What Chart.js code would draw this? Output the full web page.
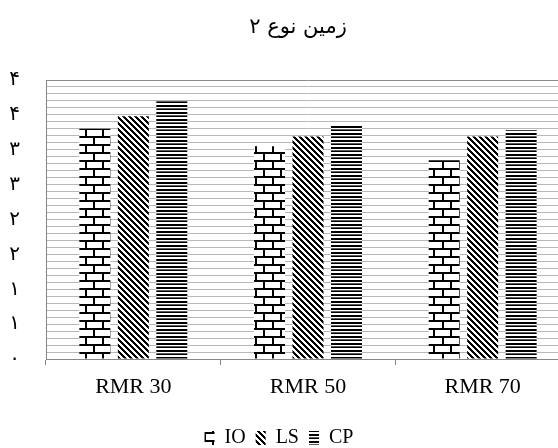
<!DOCTYPE html>
<html>
<head>
<meta charset="utf-8">
<script src="https://cdn.jsdelivr.net/npm/chart.js@4"></script>
<style>
  html, body { margin: 0; padding: 0; background: #fff; overflow: hidden; }
  #wrap { width: 558px; height: 448px; overflow: hidden; position: relative; }
  canvas { display: block; }
</style>
</head>
<body>
<div id="wrap"><canvas id="chart" width="600" height="448"></canvas></div>
<script>
/* ---- data ---- */
const TITLE       = 'زمین نوع ۲';
const categories  = ['RMR 30', 'RMR 50', 'RMR 70'];
const seriesNames = ['IO', 'LS', 'CP'];
const ioValues    = [3.30, 3.05, 2.85];
const lsValues    = [3.48, 3.19, 3.19];
const cpValues    = [3.70, 3.35, 3.28];
// labels shown every 0.5 (rounded, Persian digits), from 0 up to 4
const yTickLabels = ['۰', '۱', '۱', '۲', '۲', '۳', '۳', '۴', '۴'];

const SERIF = "'Liberation Serif', 'Times New Roman', serif";
const AXIS_GRAY = '#868686';
const GRID_GRAY = '#b8b8b8';

/* ---- fill patterns ---- */
function makeTile(w, h, draw) {
  const c = document.createElement('canvas');
  c.width = w; c.height = h;
  const g = c.getContext('2d');
  g.fillStyle = '#fff';
  g.fillRect(0, 0, w, h);
  draw(g, w, h);
  return g.createPattern(c, 'repeat');
}

// brick: white bricks, black mortar
const brickPattern = makeTile(17, 16, (g) => {
  g.fillStyle = '#000';
  g.fillRect(0, 0, 17, 2);
  g.fillRect(0, 8, 17, 2);
  g.fillRect(0, 2, 2, 6);
  g.fillRect(8, 10, 2, 6);
});

// wide downward diagonal
const diagPattern = makeTile(6, 6, (g) => {
  const img = g.getImageData(0, 0, 6, 6);
  for (let y = 0; y < 6; y++) {
    for (let x = 0; x < 6; x++) {
      const d = ((x - y) % 6 + 6) % 6;
      const v = d < 3 ? 0 : 255;
      const i = (y * 6 + x) * 4;
      img.data[i] = img.data[i + 1] = img.data[i + 2] = v;
      img.data[i + 3] = 255;
    }
  }
  g.putImageData(img, 0, 0);
});

// dark horizontal stripes
const hstripePattern = makeTile(1, 7, (g) => {
  const rows = [0, 0, 255, 90, 0, 255, 255];
  rows.forEach((v, y) => {
    g.fillStyle = `rgb(${v},${v},${v})`;
    g.fillRect(0, y, 1, 1);
  });
});

/* ---- small layout nudges (title / legend placement) ---- */
const nudge = {
  id: 'nudge',
  afterLayout(chart) {
    const lg = chart.legend;
    if (lg) {
      lg.left -= 6; lg.right -= 6;
      lg.top += 15; lg.bottom += 15;
    }
    const tb = chart.titleBlock;
    if (tb) { tb.left += 13; tb.right += 13; }
  }
};

function barSet(label, data, fill) {
  return {
    label,
    data,
    backgroundColor: fill,
    borderWidth: 0,
    barPercentage: 0.805,
    categoryPercentage: 0.661
  };
}

new Chart(document.getElementById('chart'), {
  type: 'bar',
  data: {
    labels: categories,
    datasets: [
      barSet(seriesNames[0], ioValues, brickPattern),
      barSet(seriesNames[1], lsValues, diagPattern),
      barSet(seriesNames[2], cpValues, hstripePattern)
    ]
  },
  plugins: [nudge],
  options: {
    responsive: false,
    animation: false,
    layout: { padding: { left: 0, right: 30, top: 0, bottom: 5 } },
    plugins: {
      title: {
        display: true,
        text: TITLE,
        color: '#000',
        font: { family: "'DejaVu Sans', sans-serif", size: 21, weight: 'normal' },
        padding: { top: 15, bottom: 39.8 }
      },
      legend: {
        position: 'bottom',
        labels: {
          color: '#000',
          font: { family: SERIF, size: 20 },
          boxWidth: 10,
          boxHeight: 14,
          padding: 10
        }
      },
      tooltip: { enabled: false }
    },
    scales: {
      x: {
        afterFit: s => { s.height = 44; },
        ticks: { color: '#000', font: { family: SERIF, size: 22 }, padding: 9 },
        grid: { drawOnChartArea: false, drawTicks: true, tickLength: 6, color: AXIS_GRAY },
        border: { color: AXIS_GRAY, width: 1 }
      },
      y: {
        min: 0,
        max: 4,
        afterFit: s => { s.width = 46; },
        ticks: {
          stepSize: 0.1,
          autoSkip: false,
          padding: 26,
          color: '#000',
          font: { family: "'Liberation Serif', 'DejaVu Sans', serif", size: 20 },
          callback: v => {
            const k = Math.round(v * 2);
            return Math.abs(v * 2 - k) < 1e-6 ? yTickLabels[k] : '';
          }
        },
        grid: {
          drawTicks: false,
          color: ctx => (ctx.tick && ctx.tick.value === 4 ? '#8c8c8c' : GRID_GRAY)
        },
        border: { color: AXIS_GRAY, width: 1 }
      }
    }
  }
});
</script>
</body>
</html>
